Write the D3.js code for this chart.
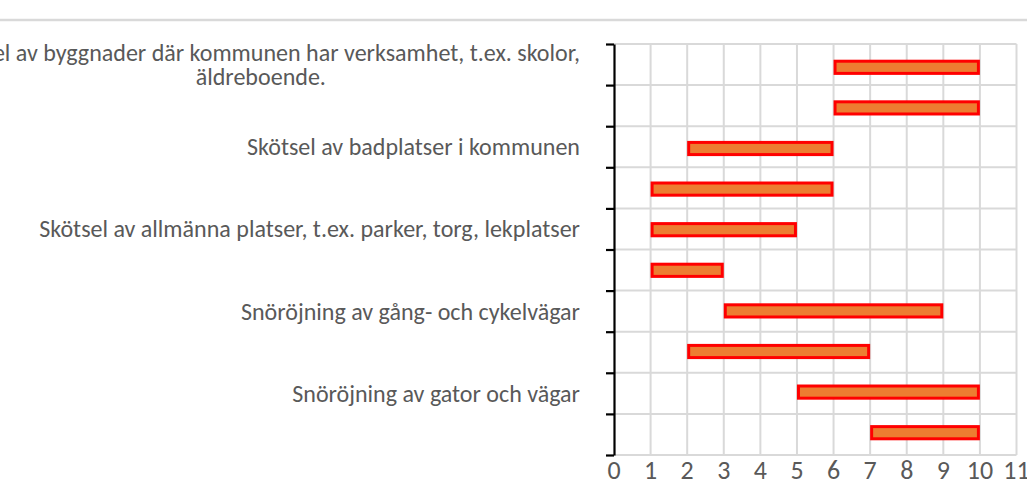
<!DOCTYPE html>
<html>
<head>
<meta charset="utf-8">
<script src="https://cdn.jsdelivr.net/npm/d3@7"></script>
<style>
  html, body { margin: 0; padding: 0; background: #fff; overflow: hidden; }
  svg { display: block; }
  text { font-family: Calibri, Carlito, Lato, sans-serif; fill: #595959; }
</style>
</head>
<body>
<svg></svg>
<script>
// categories top to bottom; Excel only printed every other label, the rest are unknown
var categories = [
    "Skötsel av byggnader där kommunen har verksamhet, t.ex. skolor,\näldreboende.",
    "",
    "Skötsel av badplatser i kommunen",
    "",
    "Skötsel av allmänna platser, t.ex. parker, torg, lekplatser",
    "",
    "Snöröjning av gång- och cykelvägar",
    "",
    "Snöröjning av gator och vägar",
    ""
];
var startValues = [6, 6, 2, 1, 1, 1, 3, 2, 5, 7];
var endValues = [10, 10, 6, 6, 5, 3, 9, 7, 10, 10];
var xTicks = [0, 1, 2, 3, 4, 5, 6, 7, 8, 9, 10, 11];

var width = 1027;
var height = 481;
var margin = {
    top: 44,
    right: 10.5,
    bottom: 26,
    left: 614
};
var labelGap = 34;
var gridColor = '#d9d9d9';

var svg = d3.select('svg')
    .attr('width', width)
    .attr('height', height);

// thin separator line on top of the chart area
svg.append('line')
    .attr('x1', 0).attr('x2', width)
    .attr('y1', 20).attr('y2', 20)
    .attr('stroke', gridColor)
    .attr('stroke-width', 2.5);

var x = d3.scaleLinear()
    .domain([0, 11])
    .range([margin.left, width - margin.right]);

// category boundaries (grid + axis ticks)
var yEdge = d3.scaleLinear()
    .domain([0, categories.length])
    .range([margin.top, height - margin.bottom]);

// bars sit in a slightly tighter band than the grid rows
var yBar = d3.scaleBand()
    .domain(d3.range(categories.length))
    .range([margin.top + 3, height - margin.bottom - 2]);

var g = svg.append('g');

// vertical grid
g.selectAll('line.vgrid').data(xTicks.slice(1))
    .enter().append('line')
    .attr('class', 'vgrid')
    .attr('x1', d => x(d)).attr('x2', d => x(d))
    .attr('y1', yEdge(0)).attr('y2', yEdge(categories.length))
    .attr('stroke', gridColor)
    .attr('stroke-width', 2);

// horizontal grid
g.selectAll('line.hgrid').data(d3.range(categories.length + 1))
    .enter().append('line')
    .attr('class', 'hgrid')
    .attr('x1', x(0)).attr('x2', x(11))
    .attr('y1', d => yEdge(d)).attr('y2', d => yEdge(d))
    .attr('stroke', gridColor)
    .attr('stroke-width', 2);

// bars
var sw = 3;
var barH = yBar.bandwidth() * 0.3;
g.selectAll('rect.bar').data(d3.range(categories.length))
    .enter().append('rect')
    .attr('class', 'bar')
    .attr('x', i => x(startValues[i]) + sw / 2)
    .attr('width', i => x(endValues[i]) - x(startValues[i]) - sw)
    .attr('y', i => yBar(i) + yBar.bandwidth() / 2 - barH / 2)
    .attr('height', barH)
    .attr('fill', '#ed7d31')
    .attr('stroke', '#ff0000')
    .attr('stroke-width', sw);

// y axis with outer ticks at every category boundary
var yAxis = d3.axisLeft(yEdge)
    .tickValues(d3.range(categories.length + 1))
    .tickFormat('')
    .tickSize(8)
    .tickSizeOuter(0);
var yAxisG = svg.append('g')
    .attr('transform', `translate(${x(0)},0)`)
    .call(yAxis);
yAxisG.selectAll('path, line')
    .attr('stroke', '#000')
    .attr('stroke-width', 2.2);

// fit the label font size to the reference width of the longest one-line label
var probe = svg.append('text').attr('font-size', 20).text(categories[4]);
var fontSize = 20 * 541 / probe.node().getComputedTextLength();
probe.remove();

// category labels
var labelX = x(0) - labelGap;
var lineH = 24;
categories.forEach(function (name, i) {
    if (!name) return;
    var lines = name.split('\n');
    var cy = yEdge(i + 0.5);
    var t = svg.append('text')
        .attr('font-size', fontSize)
        .attr('dominant-baseline', 'central');
    if (lines.length == 1) {
        t.attr('x', labelX).attr('y', cy)
            .attr('text-anchor', 'end')
            .text(name);
    } else {
        var spans = t.selectAll('tspan').data(lines)
            .enter().append('tspan')
            .attr('y', (d, k) => cy - 1 + (k - (lines.length - 1) / 2) * lineH)
            .text(d => d);
        var w = d3.max(spans.nodes(), n => n.getComputedTextLength());
        t.attr('text-anchor', 'middle');
        spans.attr('x', labelX - w / 2);
    }
});

// x axis labels (no axis line in the original)
svg.selectAll('text.xlab').data(xTicks)
    .enter().append('text')
    .attr('class', 'xlab')
    .attr('x', d => x(d))
    .attr('y', 470)
    .attr('text-anchor', 'middle')
    .attr('dominant-baseline', 'central')
    .attr('font-size', fontSize * 1.08)
    .text(d => d);
</script>
</body>
</html>
